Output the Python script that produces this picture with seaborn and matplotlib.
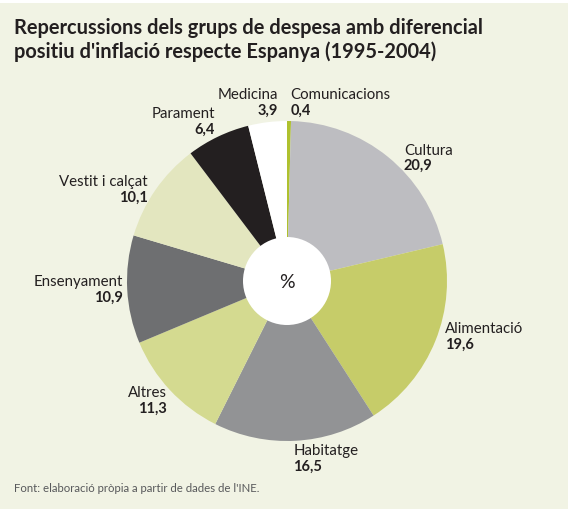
import matplotlib
matplotlib.use("Agg")
import matplotlib.pyplot as plt
from matplotlib.patches import Circle, Rectangle
import seaborn as sns

# Dades (percentatges, ordre horari des de les 12)
categories = ["Comunicacions", "Cultura", "Alimentació", "Habitatge", "Altres",
              "Ensenyament", "Vestit i calçat", "Parament", "Medicina"]
values = [0.4, 20.9, 19.6, 16.5, 11.3, 10.9, 10.1, 6.4, 3.9]
value_labels = ["0,4", "20,9", "19,6", "16,5", "11,3", "10,9", "10,1", "6,4", "3,9"]

colors = ["#afc12e", "#bdbdc1", "#c6cc69", "#929395", "#d4da90",
          "#6e6f71", "#e3e6bf", "#231f20", "#ffffff"]

# posicio de les etiquetes (unitats del radi) i alineacio
label_pos = [(0.02, 1.12), (0.73, 0.775), (0.99, -0.34), (0.04, -1.106),
             (-0.75, -0.74), (-1.025, -0.047), (-0.869, 0.581),
             (-0.45, 1.003), (-0.056, 1.12)]
label_ha = ["left", "left", "left", "left", "right",
            "right", "right", "right", "right"]

BG = "#f1f3e4"
W, H = 568, 510

sns.set_theme(style="white")
plt.rcParams["font.family"] = ["Lato", "DejaVu Sans"]

fig = plt.figure(figsize=(W / 100, H / 100), dpi=100, facecolor=BG)
fig.patches.append(Rectangle((0, 1 - 4 / H), 1, 4 / H, transform=fig.transFigure,
                             facecolor="white", edgecolor="none", zorder=0))

# pie: centre (287, 282) px, radi 160 px
cx, cy, r = 287, 282, 160
ax = fig.add_axes([(cx - r) / W, 1 - (cy + r) / H, 2 * r / W, 2 * r / H])
ax.set_facecolor("none")
ax.pie(values, colors=colors, startangle=90, counterclock=False, radius=1,
       wedgeprops=dict(linewidth=0))
ax.add_patch(Circle((0, 0), 0.275, facecolor="white", edgecolor="none", zorder=3))
ax.text(0, 0, "%", ha="center", va="center", fontsize=14, color="#231f20", zorder=4)
ax.set_xlim(-1, 1)
ax.set_ylim(-1, 1)
ax.set_aspect("equal")
ax.axis("off")

for cat, lab, (x, y), ha in zip(categories, value_labels, label_pos, label_ha):
    ax.text(x, y + 0.003, cat, ha=ha, va="bottom", fontsize=10.8, color="#231f20",
            clip_on=False)
    ax.text(x, y - 0.008, lab, ha=ha, va="top", fontsize=10.5, fontweight="bold",
            color="#231f20", clip_on=False)

fig.text(14 / W, 1 - 40 / H,
         "Repercussions dels grups de despesa amb diferencial\n"
         "positiu d'inflació respecte Espanya (1995-2004)",
         ha="left", va="center", fontsize=14.4, fontweight="bold", color="#231f20",
         linespacing=1.15)
fig.text(14 / W, 1 - 489 / H, "Font: elaboració pròpia a partir de dades de l'INE.",
         ha="left", va="center", fontsize=8.2, color="#58595b")

fig.savefig("out.png", dpi=100, facecolor=BG)
